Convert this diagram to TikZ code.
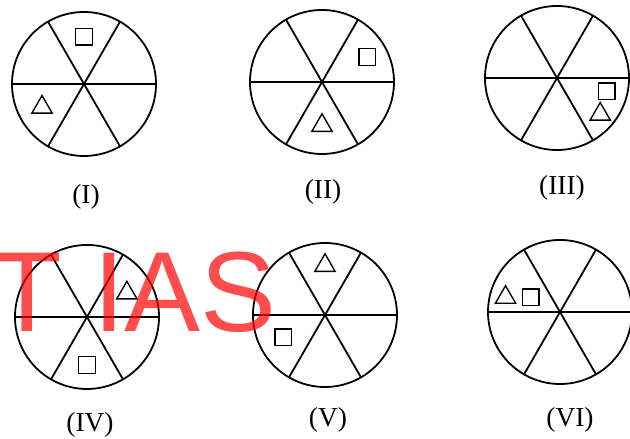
\documentclass[tikz,border=0pt]{standalone}
\usepackage{fontspec}
\newfontfamily\wmfont{Liberation Sans}
\newfontfamily\lblfont{Liberation Serif}
\usetikzlibrary{shapes.geometric}
\begin{document}
\begin{tikzpicture}[
  wheel/.style={circle, draw, line width=1.7pt, minimum size=4.8cm, inner sep=0pt, outer sep=0pt},
  spoke/.style={line width=1.7pt},
  sq/.style={rectangle, draw, line width=1.3pt, minimum size=0.55cm, inner sep=0pt},
  tri/.style={regular polygon, regular polygon sides=3, draw, line width=1.3pt, minimum size=0.78cm, inner sep=0pt},
  lbl/.style={font=\lblfont\fontsize{26}{30}\selectfont}
]
\useasboundingbox (0,0) rectangle (21,14.633);
% the six wheels
\node[wheel] (c1) at (2.8,11.833) {};
\node[wheel] (c2) at (10.733,11.9) {};
\node[wheel] (c3) at (18.567,12.033) {};
\node[wheel] (c4) at (2.9,4.067) {};
\node[wheel] (c5) at (10.833,4.133) {};
\node[wheel] (c6) at (18.667,4.233) {};
\foreach \c in {c1,c2,c3,c4,c5,c6} {
  \draw[spoke] (\c.180) -- (\c.0);
  \draw[spoke] (\c.120) -- (\c.300);
  \draw[spoke] (\c.60) -- (\c.240);
}
% squares and triangles
\node[sq] (s1) at ([shift={(90:1.57)}]c1) {};
\node[tri] (t1) at ([shift={(209:1.6)}]c1) {};
\node[sq] (s2) at ([shift={(29:1.72)}]c2) {};
\node[tri] (t2) at ([shift={(270:1.45)}]c2) {};
\node[sq] (s3) at ([shift={(345:1.72)}]c3) {};
\node[tri] (t3) at ([shift={(320:1.88)}]c3) {};
\node[tri] (t4) at ([shift={(31:1.55)}]c4) {};
\node[sq] (s4) at ([shift={(270:1.6)}]c4) {};
\node[tri] (t5) at ([shift={(90:1.65)}]c5) {};
\node[sq] (s5) at ([shift={(208:1.58)}]c5) {};
\node[tri] (t6) at ([shift={(165:1.88)}]c6) {};
\node[sq] (s6) at ([shift={(153:1.09)}]c6) {};
% labels
\node[lbl] (l1) at (2.867,8.067) {(I)};
\node[lbl] (l2) at (10.767,8.233) {(II)};
\node[lbl] (l3) at (18.733,8.367) {(III)};
\node[lbl] (l4) at (3.0,0.467) {(IV)};
\node[lbl] (l5) at (10.933,0.633) {(V)};
\node[lbl] (l6) at (19.0,0.633) {(VI)};
% watermark
\node[anchor=base west, inner sep=0pt, text=red, text opacity=0.7,
  font=\wmfont\fontsize{108}{120}\selectfont] (wm) at (-0.267,3.567) {T IAS};
\end{tikzpicture}
\end{document}
